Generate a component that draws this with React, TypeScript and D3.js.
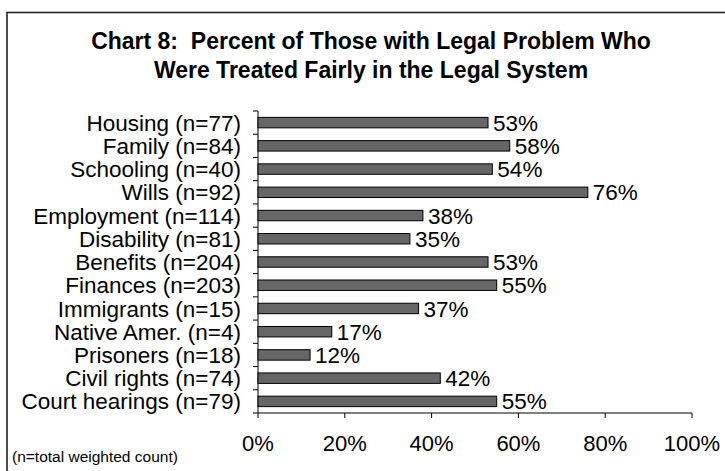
import React from "react";
import * as d3 from "d3";

const categories = [
  "Housing (n=77)",
  "Family (n=84)",
  "Schooling (n=40)",
  "Wills (n=92)",
  "Employment (n=114)",
  "Disability (n=81)",
  "Benefits (n=204)",
  "Finances (n=203)",
  "Immigrants (n=15)",
  "Native Amer. (n=4)",
  "Prisoners (n=18)",
  "Civil rights (n=74)",
  "Court hearings (n=79)",
];
const values = [53, 58, 54, 76, 38, 35, 53, 55, 37, 17, 12, 42, 55];
const xTicks = [0, 20, 40, 60, 80, 100];
const titleLines = [
  "Chart 8:  Percent of Those with Legal Problem Who",
  "Were Treated Fairly in the Legal System",
];
const footnote = "(n=total weighted count)";

const W = 725;
const H = 471;
const FONT = "'Liberation Sans', Arial, sans-serif";
const FS = 22.5;

export default function App() {
  const top = 111;
  const axisY = 413;
  const x = d3.scaleLinear().domain([0, 100]).range([258, 692]);
  const y = d3.scaleBand().domain(categories).range([top, axisY]).paddingInner(0.55).paddingOuter(0.275);
  const bandStep = (axisY - top) / categories.length;
  const boundaries = d3.range(categories.length + 1).map((i) => top + i * bandStep);

  return (
    <svg width={W} height={H} style={{ position: "absolute", left: 0, top: 0, background: "#fff" }} fontFamily={FONT}>
      <rect x={7} y={12.5} width={740} height={480} fill="#fff" stroke="#222" strokeWidth={1.6} />
      {titleLines.map((t, i) => (
        <text key={i} x={371} y={49 + i * 29} textAnchor="middle" fontWeight="bold" fontSize={23} fill="#000" style={{ whiteSpace: "pre" }}>
          {t}
        </text>
      ))}
      {/* y axis */}
      <line x1={258} x2={258} y1={top} y2={axisY} stroke="#000" strokeWidth={1} />
      {boundaries.map((b, i) => (
        <line key={i} x1={253} x2={258} y1={b} y2={b} stroke="#000" strokeWidth={1} />
      ))}
      {/* x axis */}
      <line x1={258} x2={692} y1={axisY} y2={axisY} stroke="#000" strokeWidth={1} />
      {xTicks.map((t) => (
        <g key={t}>
          <line x1={x(t)} x2={x(t)} y1={axisY} y2={axisY + 5} stroke="#000" strokeWidth={1} />
          <text x={x(t)} y={451} textAnchor="middle" fontSize={22} fill="#000">
            {t}%
          </text>
        </g>
      ))}
      {categories.map((c, i) => {
        const yy = y(c)!;
        const bw = y.bandwidth();
        return (
          <g key={c}>
            <rect x={x(0)} y={yy} width={x(values[i]) - x(0)} height={bw} fill="#666666" stroke="#000" strokeWidth={1} />
            <text x={241} y={yy + bw / 2} dy="0.36em" textAnchor="end" fontSize={FS} fill="#000">
              {c}
            </text>
            <text x={x(values[i]) + 5} y={yy + bw / 2} dy="0.36em" fontSize={FS} fill="#000">
              {values[i]}%
            </text>
          </g>
        );
      })}
      <text x={12} y={462} fontSize={15.5} fill="#000">
        {footnote}
      </text>
    </svg>
  );
}
